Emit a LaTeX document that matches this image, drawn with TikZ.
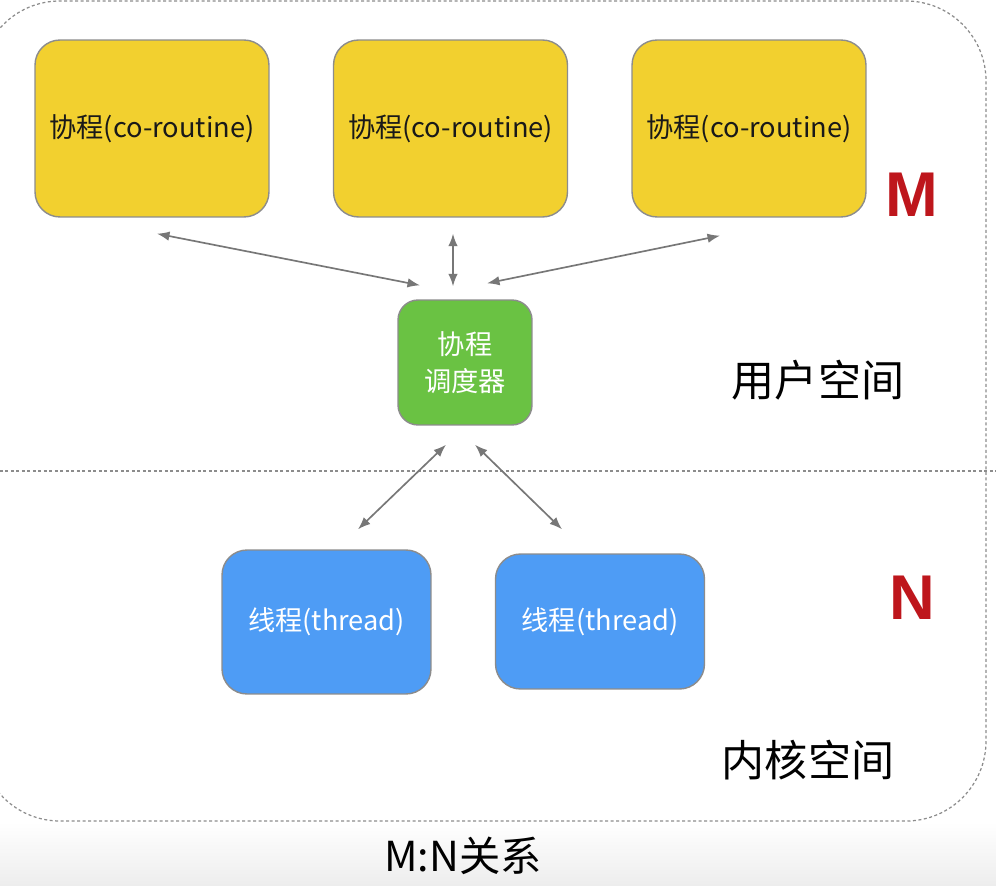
\documentclass[tikz,border=0pt]{standalone}
\usepackage{fontspec}
\setmainfont{Noto Sans CJK SC}
\newfontfamily\letterfont{Liberation Sans}
\usepackage{xcolor}
\usetikzlibrary{arrows.meta,positioning,calc}

\definecolor{coyellow}{HTML}{F2D02F}
\definecolor{schedgreen}{HTML}{6AC243}
\definecolor{thblue}{HTML}{4E9CF5}
\definecolor{markred}{HTML}{BE161C}
\definecolor{linkgray}{HTML}{777777}

\begin{document}
\begin{tikzpicture}[x=0.02cm, y=-0.02cm,
    cobox/.style={rectangle, draw=black!45, line width=0.8pt, fill=coyellow, minimum width=4.68cm, minimum height=3.54cm, rounded corners=0.5cm, text=black!90, font=\fontsize{15.5}{18}\selectfont},
    schedbox/.style={rectangle, draw=black!45, line width=0.8pt, fill=schedgreen, minimum width=2.68cm, minimum height=2.5cm, rounded corners=0.4cm, text=white, align=center, font=\fontsize{15.5}{21}\selectfont},
    thbox/.style={rectangle, draw=black!45, line width=0.8pt, fill=thblue, minimum width=4.18cm, rounded corners=0.5cm, text=white, font=\fontsize{15.5}{18}\selectfont},
    link/.style={{Latex[length=2.5mm,width=1.9mm]}-{Latex[length=2.5mm,width=1.9mm]}, draw=linkgray, line width=0.95pt},
    sep/.style={draw=black!45, line width=0.7pt, dash pattern=on 0.06cm off 0.05cm},
    spacelabel/.style={font=\fontsize{24.5}{28}\selectfont},
    letter/.style={text=markred, font=\letterfont\bfseries\fontsize{36}{40}\selectfont}]

    \useasboundingbox (0,0) rectangle (996,885);
    \fill[white] (0,0) rectangle (996,885);
    \shade[top color=white, bottom color=black!7] (0,822) rectangle (996,885);

    % frame and user/kernel split
    \draw[sep, rounded corners=1.6cm] (-20,1) rectangle (986,821);
    \draw[sep] (0,471) -- (996,471);

    \node[cobox] (co1) at (152,128.5) {协程(co-routine)};
    \node[cobox] (co2) at (450.5,128.5) {协程(co-routine)};
    \node[cobox] (co3) at (749,128.5) {协程(co-routine)};
    \node[schedbox] (sched) at (465,362.5) {协程\\调度器};
    \node[thbox, minimum height=2.88cm] (th1) at (326.5,622) {线程(thread)};
    \node[thbox, minimum height=2.7cm] (th2) at (600,621.5) {线程(thread)};

    \node[letter] (m) at (912,195) {M};
    \node[letter] (n) at (912,598) {N};
    \node[spacelabel] (user) at (818,380) {用户空间};
    \node[spacelabel] (kernel) at (808,760) {内核空间};
    \node[font=\fontsize{23.5}{26}\selectfont] (caption) at (463,856) {M:N关系};

    \draw[link] ([shift={(5,16)}]co1.south) -- ([shift={(-45,-14)}]sched.north);
    \draw[link] ([shift={(2.5,16)}]co2.south) -- ([shift={(-12,-13)}]sched.north);
    \draw[link] ([shift={(-29,18)}]co3.south) -- ([shift={(22,-16)}]sched.north);
    \draw[link] ([shift={(-19,19)}]sched.south) -- ([shift={(31.5,-20)}]th1.north);
    \draw[link] ([shift={(10,19)}]sched.south) -- ([shift={(-38,-24)}]th2.north);

\end{tikzpicture}
\end{document}
